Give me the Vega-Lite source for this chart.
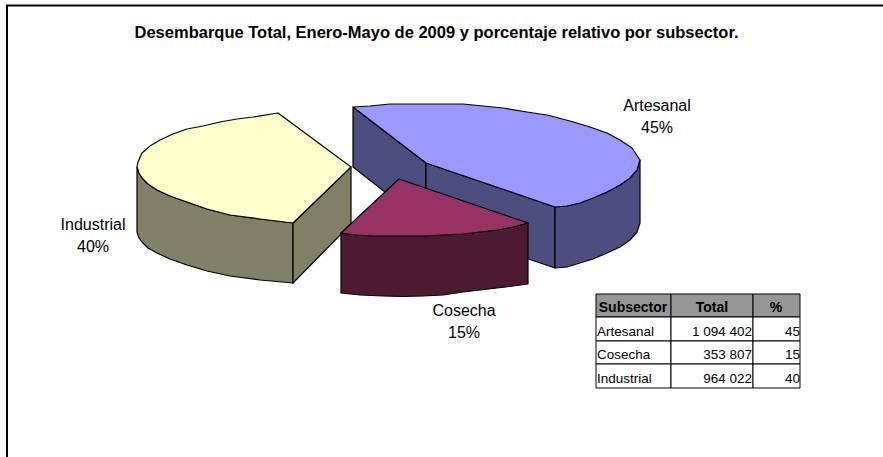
{
"$schema":"https://vega.github.io/schema/vega-lite/v6.json",
"width":883,"height":457,"padding":0,"autosize":"none",
"background":"white",
"view":{"stroke":null},
"title":{"text":"Desembarque Total, Enero-Mayo de 2009 y porcentaje relativo por subsector.","font":"Liberation Sans","fontSize":16.5,"fontWeight":"bold","color":"black","anchor":"middle","dx":-5,"dy":41,"offset":0},
"resolve":{"scale":{"fill":"independent"}},
"encoding":{
"x":{"field":"x","type":"quantitative","scale":{"domain":[0,883]},"axis":null},
"y":{"field":"y","type":"quantitative","scale":{"domain":[457,0]},"axis":null}
},
"layer":[
{"data":{"values":[{"i":0,"x":7,"y":457},{"i":1,"x":7,"y":5.5},{"i":2,"x":883,"y":5.5}]},
"mark":{"type":"line","stroke":"black","strokeWidth":2},
"encoding":{"order":{"field":"i"}}},
{"data":{"values":[
{"face":"Artesanal lado","part":"a1","i":0,"x":353,"y":107},{"face":"Artesanal lado","part":"a1","i":1,"x":426,"y":163},{"face":"Artesanal lado","part":"a1","i":2,"x":426,"y":224},{"face":"Artesanal lado","part":"a1","i":3,"x":353,"y":167},
{"face":"Artesanal lado","part":"a2","i":0,"x":426,"y":163},{"face":"Artesanal lado","part":"a2","i":1,"x":555,"y":207},{"face":"Artesanal lado","part":"a2","i":2,"x":555,"y":268},{"face":"Artesanal lado","part":"a2","i":3,"x":426,"y":224},
{"face":"Artesanal lado","part":"a3","i":0,"x":555,"y":207},{"face":"Artesanal lado","part":"a3","i":1,"x":567,"y":206},{"face":"Artesanal lado","part":"a3","i":2,"x":580,"y":203},{"face":"Artesanal lado","part":"a3","i":3,"x":593,"y":198},{"face":"Artesanal lado","part":"a3","i":4,"x":607,"y":192},{"face":"Artesanal lado","part":"a3","i":5,"x":620,"y":185},{"face":"Artesanal lado","part":"a3","i":6,"x":630,"y":178},{"face":"Artesanal lado","part":"a3","i":7,"x":637,"y":170},{"face":"Artesanal lado","part":"a3","i":8,"x":640,"y":160},{"face":"Artesanal lado","part":"a3","i":9,"x":640,"y":223},{"face":"Artesanal lado","part":"a3","i":10,"x":637,"y":232},{"face":"Artesanal lado","part":"a3","i":11,"x":630,"y":240},{"face":"Artesanal lado","part":"a3","i":12,"x":620,"y":247},{"face":"Artesanal lado","part":"a3","i":13,"x":607,"y":253},{"face":"Artesanal lado","part":"a3","i":14,"x":593,"y":259},{"face":"Artesanal lado","part":"a3","i":15,"x":580,"y":263},{"face":"Artesanal lado","part":"a3","i":16,"x":567,"y":267},{"face":"Artesanal lado","part":"a3","i":17,"x":555,"y":268},
{"face":"Artesanal","part":"a4","i":0,"x":353,"y":107},{"face":"Artesanal","part":"a4","i":1,"x":370,"y":106},{"face":"Artesanal","part":"a4","i":2,"x":390,"y":104},{"face":"Artesanal","part":"a4","i":3,"x":427,"y":104},{"face":"Artesanal","part":"a4","i":4,"x":463,"y":104},{"face":"Artesanal","part":"a4","i":5,"x":483,"y":106},{"face":"Artesanal","part":"a4","i":6,"x":503,"y":108},{"face":"Artesanal","part":"a4","i":7,"x":527,"y":112},{"face":"Artesanal","part":"a4","i":8,"x":547,"y":115},{"face":"Artesanal","part":"a4","i":9,"x":570,"y":121},{"face":"Artesanal","part":"a4","i":10,"x":590,"y":127},{"face":"Artesanal","part":"a4","i":11,"x":607,"y":133},{"face":"Artesanal","part":"a4","i":12,"x":620,"y":140},{"face":"Artesanal","part":"a4","i":13,"x":632,"y":148},{"face":"Artesanal","part":"a4","i":14,"x":640,"y":160},{"face":"Artesanal","part":"a4","i":15,"x":637,"y":170},{"face":"Artesanal","part":"a4","i":16,"x":630,"y":178},{"face":"Artesanal","part":"a4","i":17,"x":620,"y":185},{"face":"Artesanal","part":"a4","i":18,"x":607,"y":192},{"face":"Artesanal","part":"a4","i":19,"x":593,"y":198},{"face":"Artesanal","part":"a4","i":20,"x":580,"y":203},{"face":"Artesanal","part":"a4","i":21,"x":567,"y":206},{"face":"Artesanal","part":"a4","i":22,"x":555,"y":207},{"face":"Artesanal","part":"a4","i":23,"x":426,"y":163},
{"face":"Industrial lado","part":"i1","i":0,"x":137,"y":167},{"face":"Industrial lado","part":"i1","i":1,"x":139,"y":173},{"face":"Industrial lado","part":"i1","i":2,"x":142,"y":178},{"face":"Industrial lado","part":"i1","i":3,"x":148,"y":184},{"face":"Industrial lado","part":"i1","i":4,"x":157,"y":190},{"face":"Industrial lado","part":"i1","i":5,"x":170,"y":196},{"face":"Industrial lado","part":"i1","i":6,"x":187,"y":202},{"face":"Industrial lado","part":"i1","i":7,"x":207,"y":209},{"face":"Industrial lado","part":"i1","i":8,"x":230,"y":215},{"face":"Industrial lado","part":"i1","i":9,"x":260,"y":219},{"face":"Industrial lado","part":"i1","i":10,"x":293,"y":223},{"face":"Industrial lado","part":"i1","i":11,"x":293,"y":283},{"face":"Industrial lado","part":"i1","i":12,"x":260,"y":280},{"face":"Industrial lado","part":"i1","i":13,"x":230,"y":276},{"face":"Industrial lado","part":"i1","i":14,"x":207,"y":271},{"face":"Industrial lado","part":"i1","i":15,"x":187,"y":265},{"face":"Industrial lado","part":"i1","i":16,"x":170,"y":259},{"face":"Industrial lado","part":"i1","i":17,"x":157,"y":253},{"face":"Industrial lado","part":"i1","i":18,"x":148,"y":248},{"face":"Industrial lado","part":"i1","i":19,"x":142,"y":242},{"face":"Industrial lado","part":"i1","i":20,"x":139,"y":238},{"face":"Industrial lado","part":"i1","i":21,"x":137,"y":232},
{"face":"Industrial lado","part":"i2","i":0,"x":293,"y":223},{"face":"Industrial lado","part":"i2","i":1,"x":351,"y":167},{"face":"Industrial lado","part":"i2","i":2,"x":351,"y":224},{"face":"Industrial lado","part":"i2","i":3,"x":293,"y":283},
{"face":"Industrial","part":"i3","i":0,"x":278,"y":113},{"face":"Industrial","part":"i3","i":1,"x":351,"y":167},{"face":"Industrial","part":"i3","i":2,"x":293,"y":223},{"face":"Industrial","part":"i3","i":3,"x":260,"y":219},{"face":"Industrial","part":"i3","i":4,"x":230,"y":215},{"face":"Industrial","part":"i3","i":5,"x":207,"y":209},{"face":"Industrial","part":"i3","i":6,"x":187,"y":202},{"face":"Industrial","part":"i3","i":7,"x":170,"y":196},{"face":"Industrial","part":"i3","i":8,"x":157,"y":190},{"face":"Industrial","part":"i3","i":9,"x":148,"y":184},{"face":"Industrial","part":"i3","i":10,"x":142,"y":178},{"face":"Industrial","part":"i3","i":11,"x":139,"y":173},{"face":"Industrial","part":"i3","i":12,"x":137,"y":167},{"face":"Industrial","part":"i3","i":13,"x":138,"y":162},{"face":"Industrial","part":"i3","i":14,"x":142,"y":153},{"face":"Industrial","part":"i3","i":15,"x":150,"y":146},{"face":"Industrial","part":"i3","i":16,"x":160,"y":140},{"face":"Industrial","part":"i3","i":17,"x":173,"y":134},{"face":"Industrial","part":"i3","i":18,"x":187,"y":129},{"face":"Industrial","part":"i3","i":19,"x":203,"y":126},{"face":"Industrial","part":"i3","i":20,"x":220,"y":122},{"face":"Industrial","part":"i3","i":21,"x":237,"y":119},{"face":"Industrial","part":"i3","i":22,"x":253,"y":117},
{"face":"Cosecha lado","part":"c1","i":0,"x":341,"y":233},{"face":"Cosecha lado","part":"c1","i":1,"x":357,"y":235},{"face":"Cosecha lado","part":"c1","i":2,"x":373,"y":236},{"face":"Cosecha lado","part":"c1","i":3,"x":398,"y":236},{"face":"Cosecha lado","part":"c1","i":4,"x":423,"y":236},{"face":"Cosecha lado","part":"c1","i":5,"x":443,"y":235},{"face":"Cosecha lado","part":"c1","i":6,"x":463,"y":234},{"face":"Cosecha lado","part":"c1","i":7,"x":480,"y":232},{"face":"Cosecha lado","part":"c1","i":8,"x":497,"y":230},{"face":"Cosecha lado","part":"c1","i":9,"x":513,"y":227},{"face":"Cosecha lado","part":"c1","i":10,"x":528,"y":223},{"face":"Cosecha lado","part":"c1","i":11,"x":528,"y":284},{"face":"Cosecha lado","part":"c1","i":12,"x":513,"y":286},{"face":"Cosecha lado","part":"c1","i":13,"x":497,"y":288},{"face":"Cosecha lado","part":"c1","i":14,"x":480,"y":290},{"face":"Cosecha lado","part":"c1","i":15,"x":463,"y":292},{"face":"Cosecha lado","part":"c1","i":16,"x":443,"y":295},{"face":"Cosecha lado","part":"c1","i":17,"x":423,"y":296},{"face":"Cosecha lado","part":"c1","i":18,"x":403,"y":296.5},{"face":"Cosecha lado","part":"c1","i":19,"x":383,"y":296},{"face":"Cosecha lado","part":"c1","i":20,"x":360,"y":295},{"face":"Cosecha lado","part":"c1","i":21,"x":341,"y":293},
{"face":"Cosecha","part":"c2","i":0,"x":399,"y":179},{"face":"Cosecha","part":"c2","i":1,"x":528,"y":223},{"face":"Cosecha","part":"c2","i":2,"x":513,"y":227},{"face":"Cosecha","part":"c2","i":3,"x":497,"y":230},{"face":"Cosecha","part":"c2","i":4,"x":480,"y":232},{"face":"Cosecha","part":"c2","i":5,"x":463,"y":234},{"face":"Cosecha","part":"c2","i":6,"x":443,"y":235},{"face":"Cosecha","part":"c2","i":7,"x":423,"y":236},{"face":"Cosecha","part":"c2","i":8,"x":398,"y":236},{"face":"Cosecha","part":"c2","i":9,"x":373,"y":236},{"face":"Cosecha","part":"c2","i":10,"x":357,"y":235},{"face":"Cosecha","part":"c2","i":11,"x":341,"y":233}
]},
"mark":{"type":"line","interpolate":"linear-closed","stroke":"black","strokeWidth":1.2,"strokeJoin":"round"},
"encoding":{
"detail":{"field":"part"},
"order":{"field":"i"},
"fill":{"field":"face","type":"nominal","legend":null,"scale":{"domain":["Artesanal","Artesanal lado","Industrial","Industrial lado","Cosecha","Cosecha lado"],"range":["#9999FF","#4D4D80","#FFFFCC","#808066","#993366","#4D1A33"]}}
}},
{"data":{"values":[
{"label":"Artesanal\n45%","x":657,"y":106},
{"label":"Industrial\n40%","x":93,"y":225},
{"label":"Cosecha\n15%","x":464,"y":311}
]},
"mark":{"type":"text","font":"Liberation Sans","fontSize":16,"color":"black","align":"center","baseline":"middle","lineBreak":"\n","lineHeight":22},
"encoding":{"text":{"field":"label"}}},
{"data":{"values":[
{"x":596,"x2":671,"y":294,"y2":317,"head":"h"},{"x":671,"x2":753,"y":294,"y2":317,"head":"h"},{"x":753,"x2":800,"y":294,"y2":317,"head":"h"},
{"x":596,"x2":671,"y":317,"y2":341,"head":"b"},{"x":671,"x2":753,"y":317,"y2":341,"head":"b"},{"x":753,"x2":800,"y":317,"y2":341,"head":"b"},
{"x":596,"x2":671,"y":341,"y2":364,"head":"b"},{"x":671,"x2":753,"y":341,"y2":364,"head":"b"},{"x":753,"x2":800,"y":341,"y2":364,"head":"b"},
{"x":596,"x2":671,"y":364,"y2":388,"head":"b"},{"x":671,"x2":753,"y":364,"y2":388,"head":"b"},{"x":753,"x2":800,"y":364,"y2":388,"head":"b"}
]},
"mark":{"type":"rect","stroke":"black","strokeWidth":1},
"encoding":{"x2":{"field":"x2"},"y2":{"field":"y2"},
"fill":{"field":"head","type":"nominal","legend":null,"scale":{"domain":["h","b"],"range":["#969696","#FFFFFF"]}}}},
{"data":{"values":[
{"t":"Subsector","x":633,"y":308},{"t":"Total","x":712,"y":308},{"t":"%","x":776,"y":308}
]},
"mark":{"type":"text","font":"Liberation Sans","fontSize":14,"fontWeight":"bold","color":"black","align":"center","baseline":"middle"},
"encoding":{"text":{"field":"t"}}},
{"data":{"values":[
{"t":"Artesanal","x":597,"y":332},{"t":"Cosecha","x":597,"y":355},{"t":"Industrial","x":597,"y":379}
]},
"mark":{"type":"text","font":"Liberation Sans","fontSize":13.5,"color":"black","align":"left","baseline":"middle"},
"encoding":{"text":{"field":"t"}}},
{"data":{"values":[
{"t":"1 094 402","x":752,"y":332},{"t":"353 807","x":752,"y":355},{"t":"964 022","x":752,"y":379},
{"t":"45","x":800,"y":332},{"t":"15","x":800,"y":355},{"t":"40","x":800,"y":379}
]},
"mark":{"type":"text","font":"Liberation Sans","fontSize":13.5,"color":"black","align":"right","baseline":"middle"},
"encoding":{"text":{"field":"t"}}}
]
}
